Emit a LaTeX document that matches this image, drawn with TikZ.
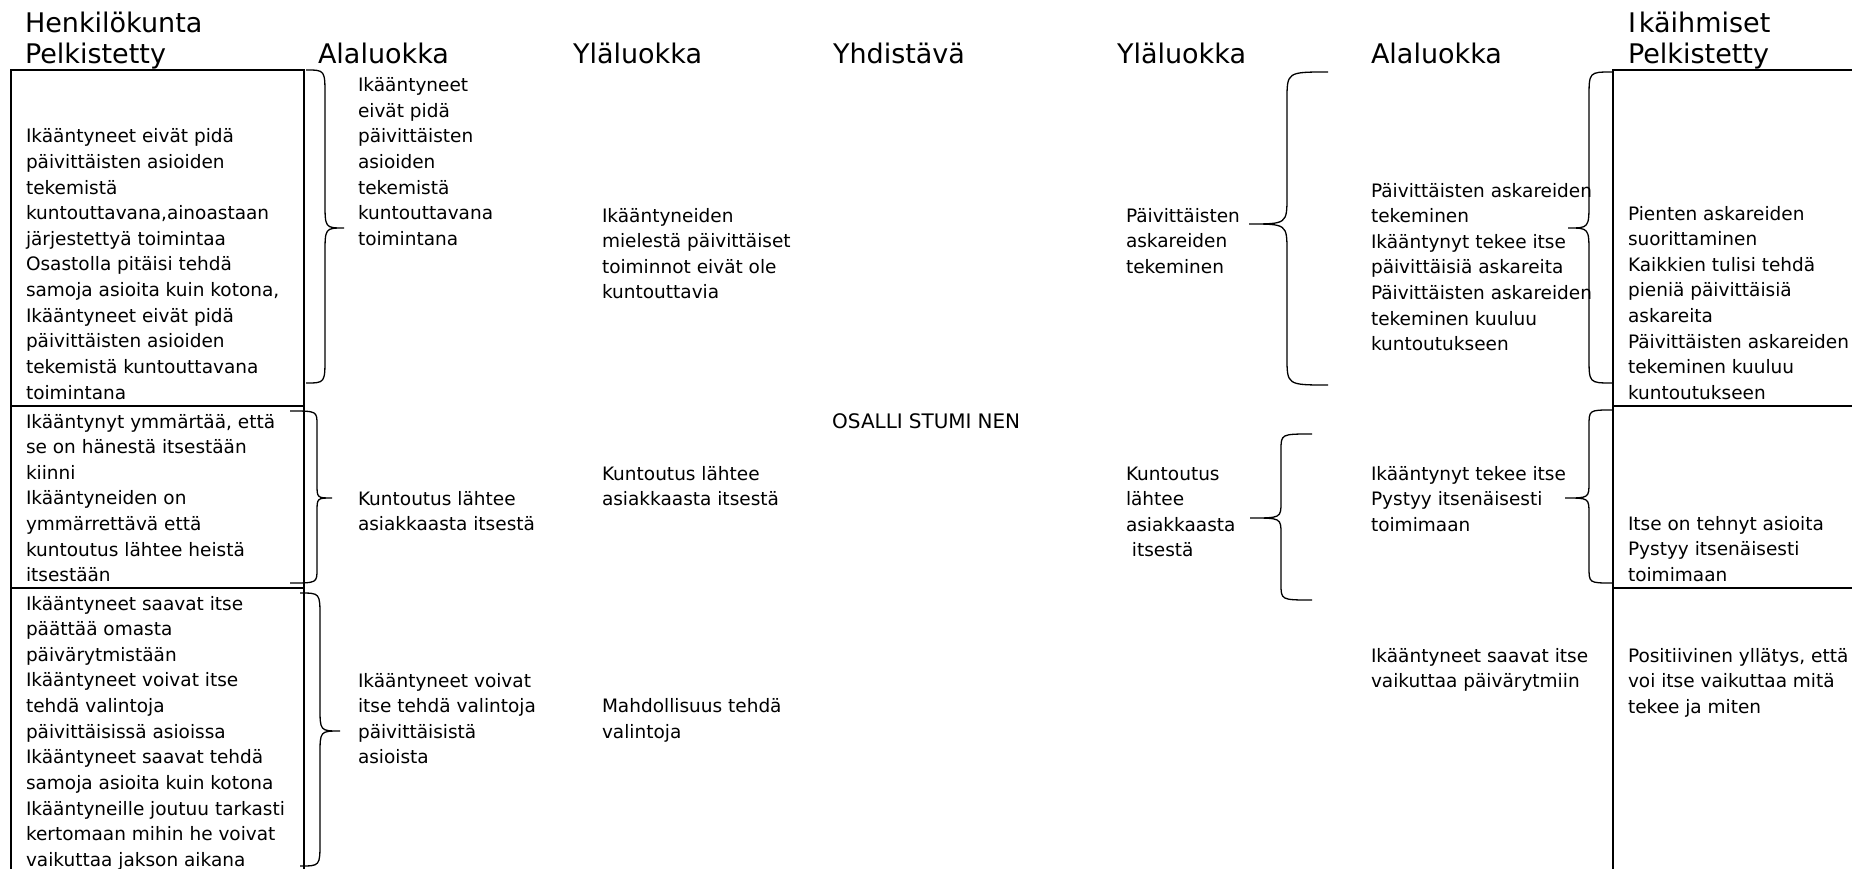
\documentclass[tikz,border=0pt]{standalone}
\usepackage{fontspec}
\setmainfont{DejaVu Sans}
% curly brace: x of the ends, x of the spine, x of the tip, y top, y tip, y bottom, curl length
\newcommand{\curlybrace}[7]{%
  \draw[curly] (#1,#4) .. controls (#2,#4) .. ({#2},{#4+#7})
    -- ({#2},{#5-#7}) .. controls (#2,#5) .. (#3,#5)
    .. controls (#2,#5) .. ({#2},{#5+#7})
    -- ({#2},{#6-#7}) .. controls (#2,#6) .. (#1,#6);
}
\begin{document}
\begin{tikzpicture}[x=1pt,y=-1pt,
  body/.style={anchor=north west, inner sep=0pt, outer sep=0pt, align=left,
    yshift=0.7*25.65pt, font=\fontsize{18.5}{25.65}\selectfont},
  head/.style={anchor=base west, inner sep=0pt, outer sep=0pt,
    font=\fontsize{27}{32}\selectfont},
  rule/.style={line width=2pt, line cap=rect},
  curly/.style={line width=1.3pt}]
\useasboundingbox (0,0) rectangle (1852,869);

% column headings
\node[head] (hHenk)  at (25,33)   {Henkilökunta};
\node[head] (hPelkL) at (25,64)   {Pelkistetty};
\node[head] (hAlaL)  at (318,64)  {Alaluokka};
\node[head] (hYlaL)  at (573,64)  {Yläluokka};
\node[head] (hYhd)   at (833,64)  {Yhdistävä};
\node[head] (hYlaR)  at (1117,64) {Yläluokka};
\node[head] (hAlaR)  at (1371,64) {Alaluokka};
\node[head] (hIka)   at (1628,33) {I\kern3pt käihmiset};
\node[head] (hPelkR) at (1628,64) {Pelkistetty};

% left table (staff)
\draw[rule] (11,869) -- (11,70.5) -- (304,70.5) -- (304,869);
\draw[rule] (11,406) -- (304,406);
\draw[rule] (11,588) -- (304,588);

% right table (elderly)
\draw[rule] (1613,869) -- (1613,70.5) -- (1852,70.5);
\draw[rule] (1613,406) -- (1852,406);
\draw[rule] (1613,588) -- (1852,588);

% staff: simplified expressions
\node[body] (sA) at (26,142.7) {\strut Ikääntyneet eivät pidä\\päivittäisten asioiden\\tekemistä\\kuntouttavana,ainoastaan\\järjestettyä toimintaa\\Osastolla pitäisi tehdä\\samoja asioita kuin kotona,\\Ikääntyneet eivät pidä\\päivittäisten asioiden\\tekemistä kuntouttavana\\toimintana};
\node[body] (sB) at (26,428) {\strut Ikääntynyt ymmärtää, että\\se on hänestä itsestään\\kiinni\\Ikääntyneiden on\\ymmärrettävä että\\kuntoutus lähtee heistä\\itsestään};
\node[body] (sC) at (26,610) {\strut Ikääntyneet saavat itse\\päättää omasta\\päivärytmistään\\Ikääntyneet voivat itse\\tehdä valintoja\\päivittäisissä asioissa\\Ikääntyneet saavat tehdä\\samoja asioita kuin kotona\\Ikääntyneille joutuu tarkasti\\kertomaan mihin he voivat\\vaikuttaa jakson aikana};

% staff: subcategories
\node[body] (aA) at (358,91.5) {\strut Ikääntyneet\\eivät pidä\\päivittäisten\\asioiden\\tekemistä\\kuntouttavana\\toimintana};
\node[body] (aB) at (358,505) {\strut Kuntoutus lähtee\\asiakkaasta itsestä};
\node[body] (aC) at (358,687) {\strut Ikääntyneet voivat\\itse tehdä valintoja\\päivittäisistä\\asioista};

% staff: upper categories
\node[body] (uA) at (602,222) {\strut Ikääntyneiden\\mielestä päivittäiset\\toiminnot eivät ole\\kuntouttavia};
\node[body] (uB) at (602,480) {\strut Kuntoutus lähtee\\asiakkaasta itsestä};
\node[body] (uC) at (602,712.5) {\strut Mahdollisuus tehdä\\valintoja};

% combining category
\node[anchor=base west, inner sep=0pt, font=\fontsize{20}{24}\selectfont] (yhd) at (832,428)
  {OSALLI\kern6pt STUMI\kern6pt NEN};

% elderly: upper categories
\node[body] (vA) at (1126,222) {\strut Päivittäisten\\askareiden\\tekeminen};
\node[body] (vB) at (1126,480) {\strut Kuntoutus\\lähtee\\asiakkaasta\\\hspace*{.32em}itsestä};

% elderly: subcategories
\node[body] (bA) at (1371,197) {\strut Päivittäisten askareiden\\tekeminen\\Ikääntynyt tekee itse\\päivittäisiä askareita\\Päivittäisten askareiden\\tekeminen kuuluu\\kuntoutukseen};
\node[body] (bB) at (1371,480) {\strut Ikääntynyt tekee itse\\Pystyy itsenäisesti\\toimimaan};
\node[body] (bC) at (1371,662) {\strut Ikääntyneet saavat itse\\vaikuttaa päivärytmiin};

% elderly: simplified expressions
\node[body] (pA) at (1628,220) {\strut Pienten askareiden\\suorittaminen\\Kaikkien tulisi tehdä\\pieniä päivittäisiä\\askareita\\Päivittäisten askareiden\\tekeminen kuuluu\\kuntoutukseen};
\node[body] (pB) at (1628,530) {\strut Itse on tehnyt asioita\\Pystyy itsenäisesti\\toimimaan};
\node[body] (pC) at (1628,662) {\strut Positiivinen yllätys, että\\voi itse vaikuttaa mitä\\tekee ja miten};

% braces grouping the staff expressions
\curlybrace{306}{325}{344}{70}{228}{383}{26}
\curlybrace{290}{317}{332}{411}{498}{583}{14}
\curlybrace{300}{320}{340}{593}{731}{866}{24}

% braces grouping the elderly expressions
\curlybrace{1328}{1287}{1249}{72}{224}{385}{28}
\curlybrace{1312}{1281}{1250}{434}{518}{600}{16}
\curlybrace{1612}{1589}{1568}{72}{228}{383}{26}
\curlybrace{1612}{1589}{1565}{410}{498}{583}{16}
\end{tikzpicture}
\end{document}
